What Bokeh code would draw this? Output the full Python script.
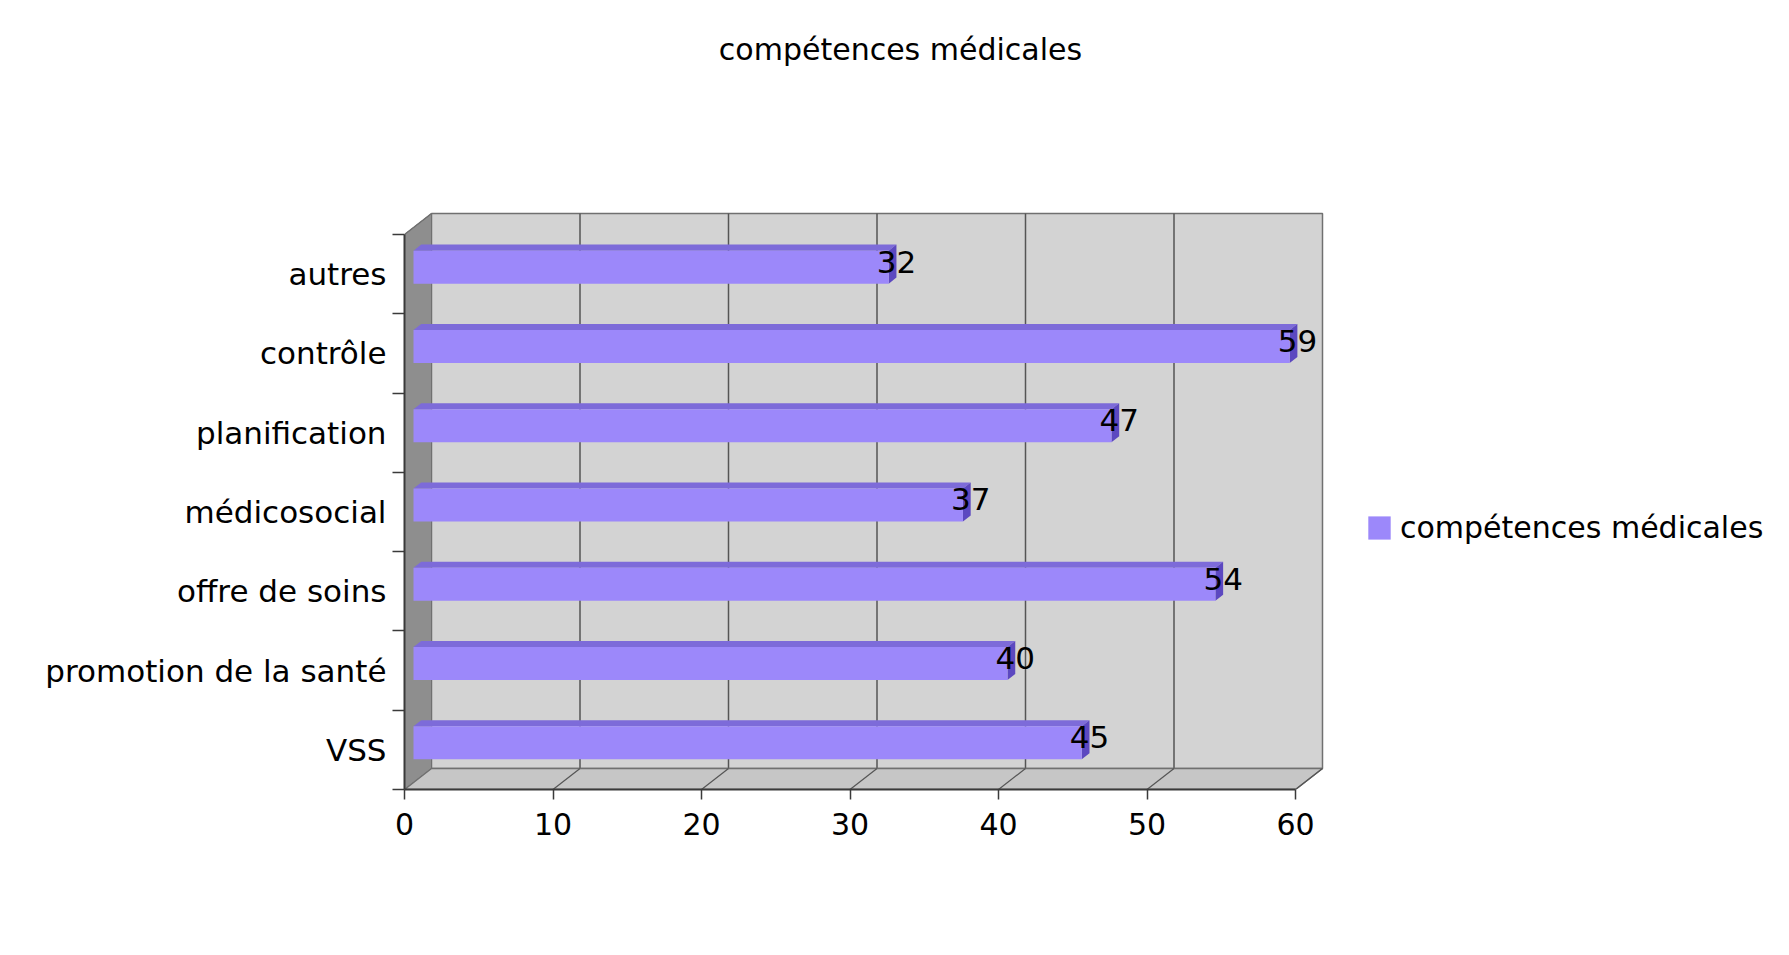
from bokeh.plotting import figure
from bokeh.models import ColumnDataSource, FixedTicker, Legend, LegendItem, Range1d
from bokeh.embed import file_html
from bokeh.resources import INLINE
from bokeh.core.properties import value

# ---------------- data ----------------
categories = ["VSS", "promotion de la santé", "offre de soins", "médicosocial",
              "planification", "contrôle", "autres"]
values = [45, 40, 54, 37, 47, 59, 32]
x_ticks = [0, 10, 20, 30, 40, 50, 60]
title_text = "compétences médicales"
series_name = "compétences médicales"

# ---------------- style / geometry (page pixels) ----------------
FONT = "DejaVu Sans"
FS = "30px"
FS_CAT = "31px"
FS_VAL = "31px"
PAGE_W, PAGE_H = 1789, 955
AX_X, AX_Y = 404, 789          # front axes corner on the page
WALL_RIGHT, WALL_TOP = 1322, 213
B_LEFT = AX_X
B_BOTTOM = PAGE_H - AX_Y
FRAME_W = PAGE_W - B_LEFT
FRAME_H = AX_Y

XMAX = x_ticks[-1]
DX_PX, DY_PX = 27, 21
n = len(categories)
px_x = (WALL_RIGHT - AX_X - DX_PX) / XMAX
band_px = (AX_Y - WALL_TOP - DY_PX) / n
DX = DX_PX / px_x
DY = DY_PX / band_px
x_end = FRAME_W / px_x
y_end = FRAME_H / band_px

BAR_H = 33 / band_px
D1, D2 = 1 / 3, 0.62

FRONT = "#9c88fa"
TOPC = "#7d6bd9"
ENDC = "#5c48c0"
WALL = "#d3d3d3"
LWALL = "#8e8e8e"
FLOOR = "#c6c6c6"
EDGE = "#707070"
GRID = "#555555"
AXIS = "#3a3a3a"

p = figure(width=PAGE_W, height=PAGE_H, output_backend="svg", toolbar_location=None,
           x_range=Range1d(0, x_end), y_range=Range1d(0, y_end),
           min_border_left=B_LEFT, min_border_right=0,
           min_border_top=0, min_border_bottom=B_BOTTOM)
p.title.visible = False
p.outline_line_color = None
p.grid.visible = False
p.background_fill_color = "white"
p.border_fill_color = "white"

# back wall
p.quad(left=[DX], right=[XMAX + DX], bottom=[DY], top=[DY + n],
       fill_color=WALL, line_color=EDGE, line_width=1.5)
gx = [t + DX for t in x_ticks[1:-1]]
p.segment(x0=gx, y0=[DY] * len(gx), x1=gx, y1=[DY + n] * len(gx),
          line_color=GRID, line_width=1.5)
# left wall
p.patch(x=[0, DX, DX, 0], y=[0, DY, DY + n, n], fill_color=LWALL,
        line_color=EDGE, line_width=1)
# floor
p.patch(x=[0, XMAX, XMAX + DX, DX], y=[0, 0, DY, DY], fill_color=FLOOR,
        line_color=EDGE, line_width=1.5)
fx = x_ticks[1:]
p.segment(x0=fx, y0=[0] * len(fx), x1=[t + DX for t in fx], y1=[DY] * len(fx),
          line_color=GRID, line_width=1.2)
p.segment(x0=[0], y0=[n], x1=[DX], y1=[DY + n], line_color=EDGE, line_width=1.5)

# bars
cent = [i + 0.5 for i in range(n)]
src = ColumnDataSource(dict(
    left=[D1 * DX] * n,
    right=[v + D1 * DX for v in values],
    bottom=[c - BAR_H / 2 + D1 * DY for c in cent],
    top=[c + BAR_H / 2 + D1 * DY for c in cent],
))
top_xs, top_ys, end_xs, end_ys = [], [], [], []
for v, c in zip(values, cent):
    t1 = c + BAR_H / 2 + D1 * DY
    t2 = c + BAR_H / 2 + D2 * DY
    b1 = c - BAR_H / 2 + D1 * DY
    b2 = c - BAR_H / 2 + D2 * DY
    top_xs.append([D1 * DX, v + D1 * DX, v + D2 * DX, D2 * DX])
    top_ys.append([t1, t1, t2, t2])
    end_xs.append([v + D1 * DX, v + D2 * DX, v + D2 * DX, v + D1 * DX])
    end_ys.append([b1, b2, t2, t1])
p.patches(xs=top_xs, ys=top_ys, fill_color=TOPC, line_color=None)
p.patches(xs=end_xs, ys=end_ys, fill_color=ENDC, line_color=None)
bars = p.quad(left="left", right="right", bottom="bottom", top="top", source=src,
              fill_color=FRONT, line_color=None)

# value labels
lab = ColumnDataSource(dict(x=[v + 0.62 * DX for v in values],
                            y=[c + 0.6 * DY for c in cent],
                            t=[str(v) for v in values]))
p.text(x="x", y="y", text="t", source=lab, text_font=value(FONT),
       text_font_size=FS_VAL, text_align="center", text_baseline="middle",
       text_color="black")

# chart title (inside the frame, which spans the page top)
TITLE_CX, TITLE_CY = 900, 49
p.text(x=[(TITLE_CX - AX_X) / px_x], y=[(AX_Y - TITLE_CY) / band_px], text=[title_text],
       text_font=value(FONT), text_font_size=FS, text_align="center",
       text_baseline="middle", text_color="black")

# axes
xa = p.xaxis[0]
xa.ticker = FixedTicker(ticks=x_ticks, minor_ticks=[])
xa.bounds = (0, XMAX)
xa.axis_line_color = AXIS
xa.axis_line_width = 2
xa.major_tick_line_color = AXIS
xa.major_tick_line_width = 1.5
xa.major_tick_out = 10
xa.major_tick_in = 0
xa.minor_tick_line_color = None
xa.major_label_text_font = FONT
xa.major_label_text_font_size = FS
xa.major_label_text_color = "black"
xa.major_label_standoff = 13

ya = p.yaxis[0]
ya.ticker = FixedTicker(ticks=cent, minor_ticks=list(range(n + 1)))
ya.major_label_overrides = {c: lbl for c, lbl in zip(cent, categories)}
ya.bounds = (0, n)
ya.axis_line_color = AXIS
ya.axis_line_width = 2
ya.major_tick_out = 0
ya.major_tick_in = 0
ya.minor_tick_line_color = AXIS
ya.minor_tick_line_width = 1.5
ya.minor_tick_out = 12
ya.minor_tick_in = 0
ya.major_label_text_font = FONT
ya.major_label_text_font_size = FS_CAT
ya.major_label_text_color = "black"
ya.major_label_standoff = 6

# legend (frame-relative pixel location)
LEG_X, LEG_CY = 1365, 527
leg = Legend(items=[LegendItem(label=series_name, renderers=[bars])],
             location=(LEG_X - AX_X, AX_Y - LEG_CY - 18), padding=0, margin=0, spacing=0,
             glyph_width=28, glyph_height=29, label_standoff=7,
             label_text_font=FONT, label_text_font_size=FS,
             label_text_color="black",
             background_fill_alpha=0, border_line_color=None)
p.add_layout(leg, "center")

open("out.html", "w").write(file_html(p, INLINE))
